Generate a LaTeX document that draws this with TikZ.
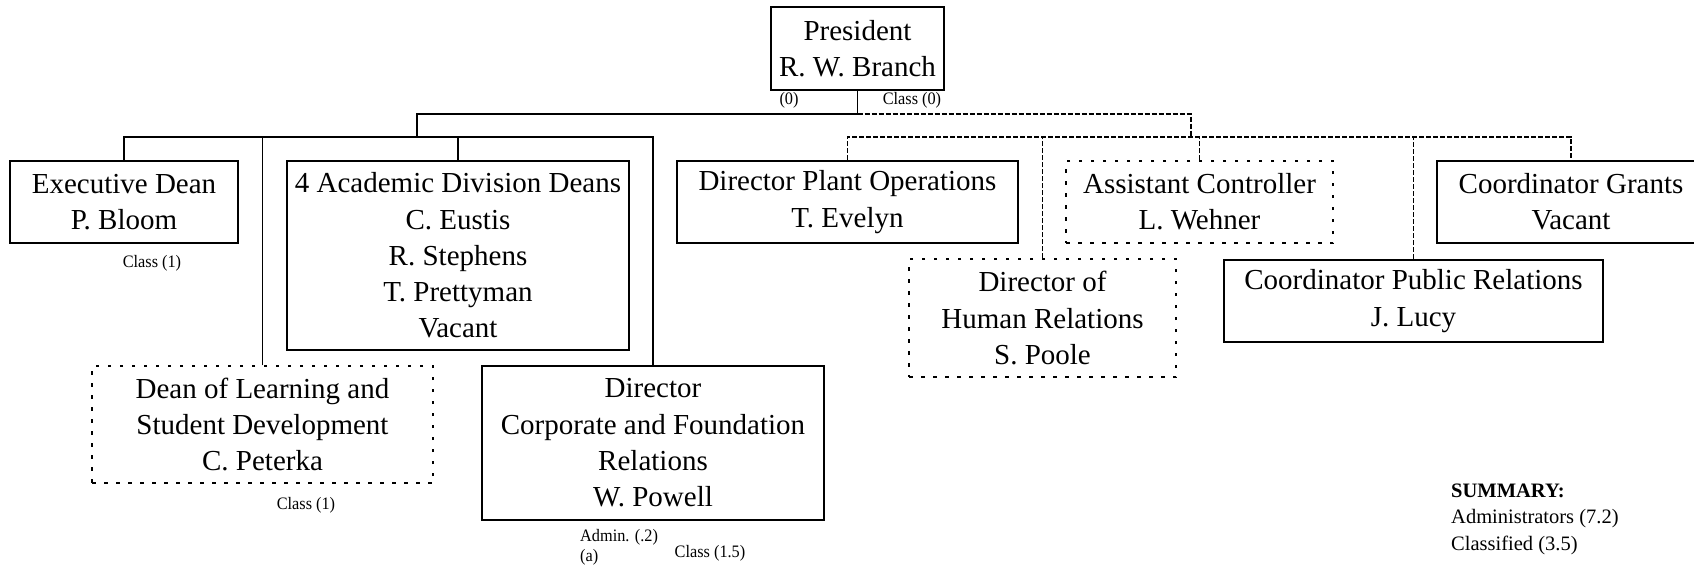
\documentclass[tikz,border=0pt]{standalone}
\usepackage{fontspec}
\setmainfont{Liberation Serif}
\newfontfamily\condfont[FakeStretch=0.93]{Liberation Serif}
\tikzset{
  box/.style={draw, line width=1.8pt, align=center, inner sep=0pt,
    font=\fontsize{29}{36.3}\selectfont},
  dotbox/.style={box, line width=1.1pt, dash pattern=on 3.5pt off 8.5pt},
  conn/.style={line width=1.8pt},
  dconn/.style={line width=1.8pt, dash pattern=on 5pt off 2pt},
  lbl/.style={inner sep=0pt, font=\condfont\fontsize{17.5}{20}\selectfont},
  sumtxt/.style={inner sep=0pt, align=left, font=\fontsize{20.5}{26.5}\selectfont},
}
\begin{document}
\begin{tikzpicture}[x=1pt, y=-1pt]
\useasboundingbox (0,0) rectangle (1694,568);
\clip (0,0) rectangle (1694,568);
\fill[white] (0,0) rectangle (1694,568);

% boxes
\node[box, minimum width=173pt, minimum height=83pt] (pres) at (857.5,48.5) {President\\R. W. Branch};
\node[box, minimum width=228pt, minimum height=82pt] (exec) at (124,202) {Executive Dean\\P. Bloom};
\node[box, minimum width=342pt, minimum height=189pt] (acad) at (458,255.5) {4 Academic Division Deans\\C. Eustis\\R. Stephens\\T. Prettyman\\Vacant};
\node[dotbox, minimum width=341pt, minimum height=117pt] (dlsd) at (262.5,424.5) {Dean of Learning and\\Student Development\\C. Peterka};
\node[box, minimum width=342pt, minimum height=154pt] (dcfr) at (653,443) {Director\\Corporate and Foundation\\Relations\\W. Powell};
\node[box, minimum width=341pt, minimum height=82pt] (dpo) at (847.5,202) {Director Plant Operations\\T. Evelyn};
\node[dotbox, minimum width=267pt, minimum height=118pt] (dhr) at (1042.5,318) {Director of\\Human Relations\\S. Poole};
\node[dotbox, minimum width=267pt, minimum height=82pt] (ac) at (1199.5,202) {Assistant Controller\\L. Wehner};
\node[box, minimum width=379pt, minimum height=82pt] (cpr) at (1413.5,301) {Coordinator Public Relations\\J. Lucy};
\node[box, minimum width=268pt, minimum height=82pt] (cg) at (1571,202) {Coordinator Grants\\Vacant};

% junctions
\coordinate (jt) at (857.5,114);
\coordinate (jl) at (417,114);
\coordinate (jr) at (1191,114);
\coordinate (bl) at (417,137);
\coordinate (br) at (1191,137);

% solid line side
\draw[conn] (pres.south) -- (jt) -- (jl) -- (bl);
\draw[conn] (exec.north) -- (exec.north |- bl) -- (dcfr.north |- bl) -- (dcfr.north);
\draw[conn] (acad.north) -- (acad.north |- bl);
\draw[conn] (dlsd.north) -- (dlsd.north |- bl);

% dashed line side
\draw[dconn] (jt) -- (jr) -- (br);
\draw[dconn] (dpo.north) -- (dpo.north |- br) -- (cg.north |- br) -- (cg.north);
\draw[dconn] (dhr.north) -- (dhr.north |- br);
\draw[dconn] (ac.north) -- (ac.north |- br);
\draw[dconn] (cpr.north) -- (cpr.north |- br);

% labels
\node[lbl] (l0) at (789,100) {(0)};
\node[lbl] (lc0) at (912,100) {Class (0)};
\node[lbl] (lc1a) at (152,263) {Class (1)};
\node[lbl] (lc1b) at (306,505) {Class (1)};
\node[lbl, anchor=west] (ladm) at (580,537) {Admin. (.2)};
\node[lbl, anchor=west] (la) at (580,557) {(a)};
\node[lbl] (lc15) at (710,553) {Class (1.5)};

% summary
\node[sumtxt, anchor=west] (sum) at (1451,519) {\textbf{SUMMARY:}\\Administrators (7.2)\\Classified (3.5)};
\end{tikzpicture}
\end{document}
